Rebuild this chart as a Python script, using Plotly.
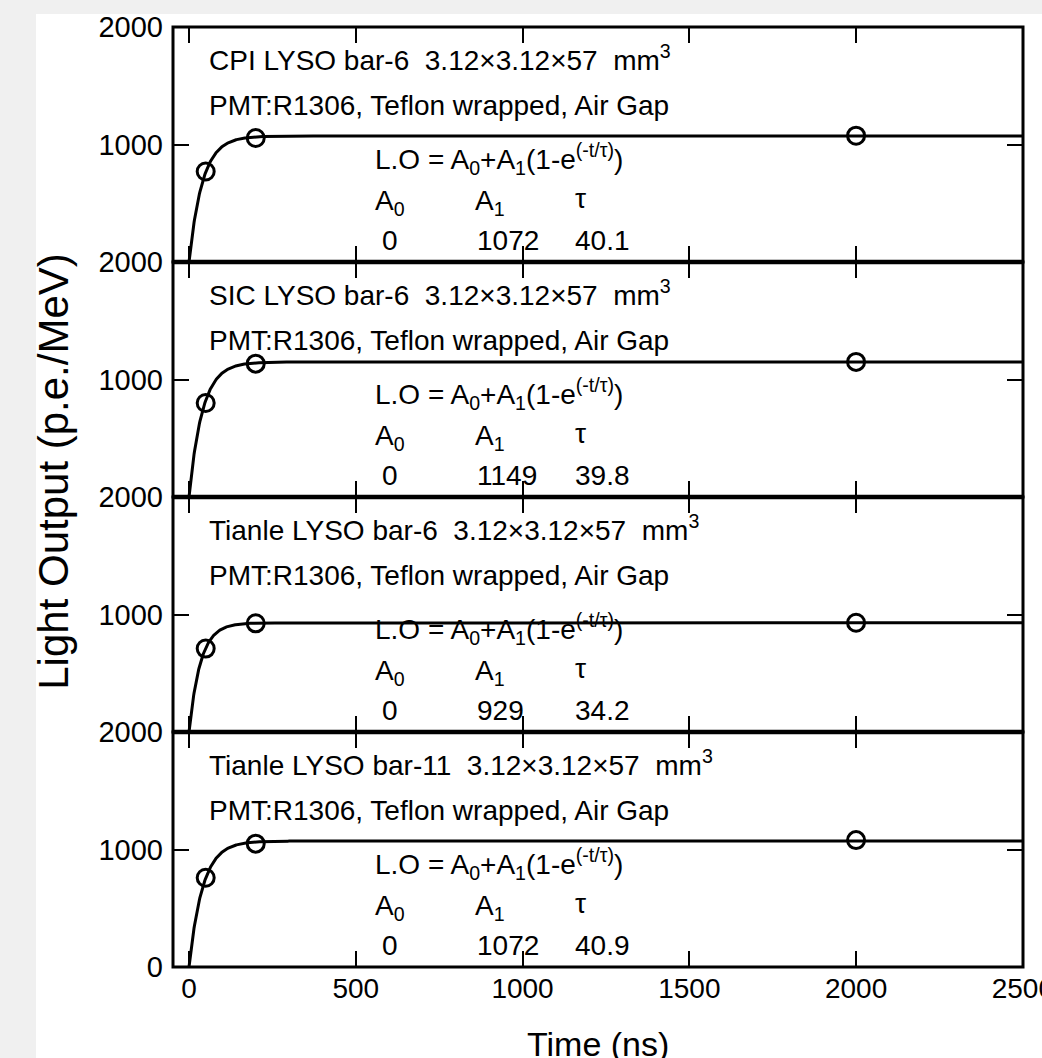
import numpy as np
import plotly.graph_objects as go
from plotly.subplots import make_subplots

# ---------------- data ----------------
panel_titles = [
    "CPI LYSO bar-6\u00a0\u00a03.12×3.12×57\u00a0\u00a0mm<sup>3</sup>",
    "SIC LYSO bar-6\u00a0\u00a03.12×3.12×57\u00a0\u00a0mm<sup>3</sup>",
    "Tianle LYSO bar-6\u00a0\u00a03.12×3.12×57\u00a0\u00a0mm<sup>3</sup>",
    "Tianle LYSO bar-11\u00a0\u00a03.12×3.12×57\u00a0\u00a0mm<sup>3</sup>",
]
subtitle = "PMT:R1306, Teflon wrapped, Air Gap"
gate_times = [50, 200, 2000]          # ns
lo_cpi = [770, 1055, 1075]
lo_sic = [800, 1135, 1150]
lo_tianle6 = [710, 925, 930]
lo_tianle11 = [760, 1050, 1080]
measurements = [lo_cpi, lo_sic, lo_tianle6, lo_tianle11]
fit_A0 = [0, 0, 0, 0]
fit_A1 = [1072, 1149, 929, 1072]
fit_tau = [40.1, 39.8, 34.2, 40.9]
x_ticks = [0, 500, 1000, 1500, 2000, 2500]

FONT = "Liberation Sans, Arial, sans-serif"

fig = make_subplots(rows=4, cols=1, shared_xaxes=False, vertical_spacing=0)

t_fit = np.linspace(0, 2500, 2001)
for i in range(4):
    r = i + 1
    yfit = fit_A0[i] + fit_A1[i] * (1 - np.exp(-t_fit / fit_tau[i]))
    fig.add_trace(go.Scatter(x=t_fit, y=yfit, mode="lines",
                             line=dict(color="black", width=3),
                             showlegend=False, hoverinfo="skip"), row=r, col=1)
    fig.add_trace(go.Scatter(x=gate_times, y=measurements[i], mode="markers",
                             marker=dict(symbol="circle-open", size=17,
                                         color="black", line=dict(width=3, color="black")),
                             showlegend=False), row=r, col=1)

    xa = "x" if r == 1 else f"x{r}"
    ya = "y" if r == 1 else f"y{r}"
    txt = dict(xref=xa, yref=ya, showarrow=False,
               font=dict(family=FONT, size=28, color="black"))
    fig.add_annotation(x=54, y=1740, text=panel_titles[i], xanchor="left", yanchor="middle", **txt)
    fig.add_annotation(x=54, y=1336, text=subtitle, xanchor="left", yanchor="middle", **txt)
    fig.add_annotation(x=551, y=877,
                       text="L.O = A<sub>0</sub>+A<sub>1</sub>(1-e<sup>(-t/τ)</sup>)",
                       xanchor="left", yanchor="middle", **txt)
    fig.add_annotation(x=551, y=505, text="A<sub>0</sub>", xanchor="left", yanchor="middle", **txt)
    fig.add_annotation(x=850, y=505, text="A<sub>1</sub>", xanchor="left", yanchor="middle", **txt)
    fig.add_annotation(x=1150, y=540, text="τ", xanchor="left", yanchor="middle", **txt)
    fig.add_annotation(x=602, y=185, text=str(fit_A0[i]), xanchor="center", yanchor="middle", **txt)
    fig.add_annotation(x=856, y=185, text=str(fit_A1[i]), xanchor="left", yanchor="middle", **txt)
    fig.add_annotation(x=1150, y=185, text=f"{fit_tau[i]:.1f}", xanchor="left", yanchor="middle", **txt)

    # panel frame
    fig.add_shape(type="rect", xref=f"{xa} domain", yref=f"{ya} domain",
                  x0=0, x1=1, y0=0, y1=1, line=dict(color="black", width=3),
                  fillcolor="rgba(0,0,0,0)", layer="above")

    fig.update_yaxes(row=r, col=1, range=[0, 2000],
                     tickvals=[1000, 2000] if r < 4 else [0, 1000, 2000],
                     ticks="inside", ticklen=16, tickwidth=2, tickcolor="black",
                     showline=False, mirror="ticks", ticklabelstandoff=9,
                     showgrid=False, zeroline=False, automargin=False,
                     tickfont=dict(family=FONT, size=29, color="black"))
    fig.update_xaxes(row=r, col=1, range=[-48, 2500.5], tickvals=x_ticks,
                     showticklabels=(r == 4), ticklabeloverflow="allow",
                     automargin=False, ticklabelstandoff=2,
                     ticks="inside", ticklen=16, tickwidth=2, tickcolor="black",
                     showline=False, mirror="ticks",
                     showgrid=False, zeroline=False,
                     tickfont=dict(family=FONT, size=28, color="black"))

# heavier separators between stacked panels
for yb in [0.25, 0.5, 0.75]:
    fig.add_shape(type="line", xref="paper", yref="paper", x0=0, x1=1, y0=yb, y1=yb,
                  line=dict(color="black", width=4.5), layer="above")

# axis titles
fig.add_annotation(xref="paper", yref="paper", x=-0.141, y=0.527, textangle=-90,
                   text="Light Output (p.e./MeV)", showarrow=False,
                   xanchor="center", yanchor="middle",
                   font=dict(family=FONT, size=42, color="black"))
fig.add_annotation(xref="paper", yref="paper", x=0.5, y=-0.082,
                   text="Time (ns)", showarrow=False,
                   xanchor="center", yanchor="middle",
                   font=dict(family=FONT, size=34, color="black"))

# white page area over light gray surround
fig.add_shape(type="rect", xref="paper", yref="paper", x0=-0.1612, x1=1.2, y0=-0.3, y1=1.0138,
              fillcolor="white", line=dict(width=0), layer="below")

fig.update_layout(width=1042, height=1058,
                  margin=dict(l=173, r=19, t=27, b=91, autoexpand=False),
                  paper_bgcolor="#f0f0f0", plot_bgcolor="white",
                  font=dict(family=FONT, color="black"))

fig.write_html("out.html")
